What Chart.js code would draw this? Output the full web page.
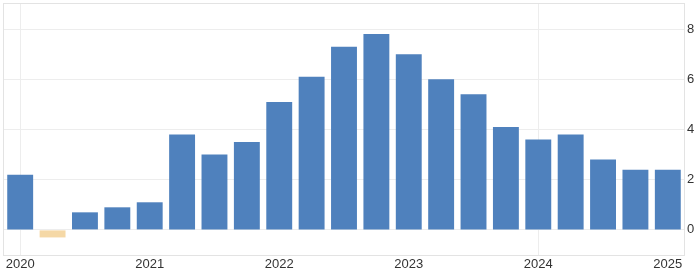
<!DOCTYPE html>
<html lang="en">
  <head>
    <meta charset="UTF-8" />
    <title>Quarterly rate</title>
    <style>
      html, body {
        margin: 0;
        padding: 0;
        background: #fff;
      }
      .chart-container {
        position: relative;
        width: 700px;
        height: 272px;
      }
    </style>
    <script src="https://cdn.jsdelivr.net/npm/chart.js"></script>
  </head>
  <body>
    <div class="chart-container">
      <canvas id="rateChart"></canvas>
    </div>

    <script>
      const quarters = [
        "2020 Q1", "2020 Q2", "2020 Q3", "2020 Q4",
        "2021 Q1", "2021 Q2", "2021 Q3", "2021 Q4",
        "2022 Q1", "2022 Q2", "2022 Q3", "2022 Q4",
        "2023 Q1", "2023 Q2", "2023 Q3", "2023 Q4",
        "2024 Q1", "2024 Q2", "2024 Q3", "2024 Q4",
        "2025 Q1",
      ];
      const values = [
        2.2, -0.3, 0.7, 0.9,
        1.1, 3.8, 3.0, 3.5,
        5.1, 6.1, 7.3, 7.8,
        7.0, 6.0, 5.4, 4.1,
        3.6, 3.8, 2.8, 2.4,
        2.4,
      ];
      const yearLabels = ["2020", "2021", "2022", "2023", "2024", "2025"];
      const yTicks = [0, 2, 4, 6, 8];

      const gridColor = "#ededed";
      const labelFont = { family: "Liberation Sans, Arial, sans-serif", size: 13 };

      // light frame round the plot area
      const framePlugin = {
        id: "frame",
        beforeDraw(chart) {
          const { ctx, chartArea: a } = chart;
          ctx.save();
          ctx.strokeStyle = "#e3e3e3";
          ctx.lineWidth = 1;
          ctx.strokeRect(a.left - 0.5, a.top - 0.5, a.right - a.left + 1, a.bottom - a.top + 1);
          ctx.restore();
        },
      };

      const ctx = document.getElementById("rateChart").getContext("2d");
      new Chart(ctx, {
        type: "bar",
        data: {
          labels: quarters,
          datasets: [
            {
              data: values,
              backgroundColor: values.map((v) => (v < 0 ? "#f5d8a6" : "#4f81bd")),
              borderWidth: 0,
              categoryPercentage: 1,
              barPercentage: 0.8,
            },
          ],
        },
        options: {
          responsive: true,
          maintainAspectRatio: false,
          animation: false,
          layout: { padding: { top: 4, left: 4, right: 0, bottom: 0 } },
          plugins: {
            legend: { display: false },
            tooltip: { enabled: false },
          },
          scales: {
            x: {
              grid: {
                offset: false,
                drawTicks: false,
                color: (c) => (c.index % 4 === 0 ? gridColor : "transparent"),
              },
              border: { display: false },
              ticks: {
                autoSkip: false,
                maxRotation: 0,
                padding: 2,
                color: "#333",
                font: labelFont,
                callback: (v, i) => (i % 4 === 0 ? yearLabels[i / 4] : null),
              },
              afterFit: (scale) => {
                scale.height = 17;
              },
            },
            y: {
              position: "right",
              min: -1,
              max: 9,
              afterBuildTicks: (scale) => {
                scale.ticks = yTicks.map((v) => ({ value: v }));
              },
              grid: { drawTicks: false, color: gridColor },
              border: { display: false },
              ticks: {
                padding: 3,
                color: "#333",
                font: labelFont,
              },
              afterFit: (scale) => {
                // labels sit well inside the range, no extra room needed
                scale.width = 16;
                scale.paddingTop = 0;
                scale.paddingBottom = 0;
              },
            },
          },
        },
        plugins: [framePlugin],
      });
    </script>
  </body>
</html>
